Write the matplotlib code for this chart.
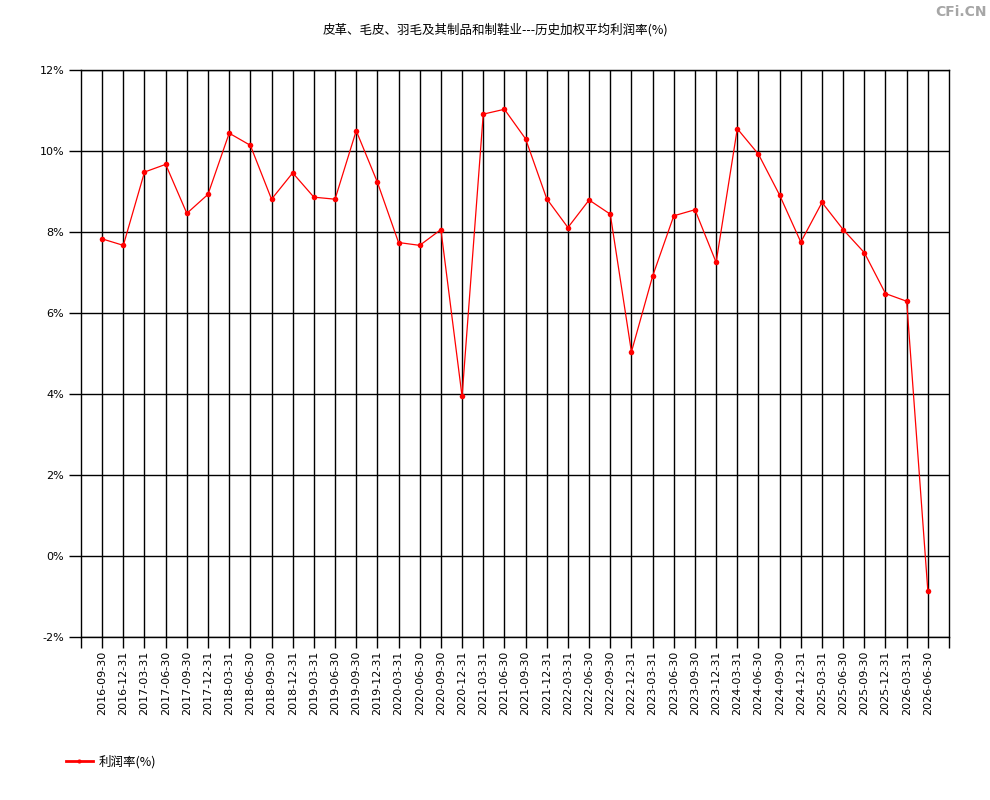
import numpy as np
import matplotlib.pyplot as plt
from matplotlib.lines import Line2D

plt.rcParams['font.family'] = ['Noto Sans CJK SC', 'DejaVu Sans']

# quarter end dates
dates = ['2016-09-30', '2016-12-31', '2017-03-31', '2017-06-30', '2017-09-30', '2017-12-31',
         '2018-03-31', '2018-06-30', '2018-09-30', '2018-12-31', '2019-03-31', '2019-06-30',
         '2019-09-30', '2019-12-31', '2020-03-31', '2020-06-30', '2020-09-30', '2020-12-31',
         '2021-03-31', '2021-06-30', '2021-09-30', '2021-12-31', '2022-03-31', '2022-06-30',
         '2022-09-30', '2022-12-31', '2023-03-31', '2023-06-30', '2023-09-30', '2023-12-31',
         '2024-03-31', '2024-06-30', '2024-09-30', '2024-12-31', '2025-03-31', '2025-06-30',
         '2025-09-30', '2025-12-31', '2026-03-31', '2026-06-30']

# weighted average profit margin (%)
profit_rate = [7.83, 7.67, 9.48, 9.67, 8.46, 8.93,
               10.44, 10.14, 8.81, 9.46, 8.86, 8.81,
               10.50, 9.23, 7.74, 7.67, 8.06, 3.94,
               10.91, 11.03, 10.30, 8.82, 8.11, 8.79,
               8.44, 5.04, 6.91, 8.40, 8.55, 7.25,
               10.55, 9.92, 8.91, 7.75, 8.73, 8.06,
               7.49, 6.48, 6.29, -0.86]

y_ticks = [-2, 0, 2, 4, 6, 8, 10, 12]

fig = plt.figure(figsize=(9.9, 8), dpi=100)
ax = fig.add_axes([0.0818, 0.20375, 0.8768, 0.70875])

x = np.arange(len(dates))
ax.plot(x, profit_rate, color='red', linewidth=0.9, marker='o', markersize=4,
        markeredgewidth=0, zorder=3)

ax.set_xlim(-1, len(dates))
ax.set_ylim(-2, 12)

# vertical grid lines at every quarter, horizontal at every 2%
for xi in x:
    ax.axvline(xi, color='black', linewidth=1, zorder=1)
for yv in y_ticks:
    ax.axhline(yv, color='black', linewidth=1, zorder=1)

ax.set_xticks(x)
ax.set_xticklabels(dates, rotation=90, fontsize=8, family='DejaVu Sans')
ax.set_xticks([-1, len(dates)], minor=True)
ax.tick_params(axis='x', which='both', length=8, width=1, pad=2)

ax.set_yticks(y_ticks)
ax.set_yticklabels([f'{v}%' for v in y_ticks], fontsize=8, family='DejaVu Sans')
ax.tick_params(axis='y', length=9, width=1, pad=3)

for sp in ax.spines.values():
    sp.set_linewidth(1)
    sp.set_color('black')

fig.text(0.5, 0.9625, '皮革、毛皮、羽毛及其制品和制鞋业---历史加权平均利润率(%)',
         ha='center', va='center', fontsize=9)
fig.text(0.997, 0.994, 'CFi.CN', ha='right', va='top', fontsize=10,
         color='#a6a6a6', fontweight='bold', family='DejaVu Sans')

# legend at bottom left
handle = Line2D([], [], color='red', linewidth=2, marker='o', markersize=3,
                markeredgewidth=0)
fig.legend([handle], ['利润率(%)'], loc='center left', bbox_to_anchor=(0.055, 0.048),
           frameon=False, fontsize=9, handlelength=2.2, handletextpad=0.4)

fig.savefig('out.png', dpi=100)
